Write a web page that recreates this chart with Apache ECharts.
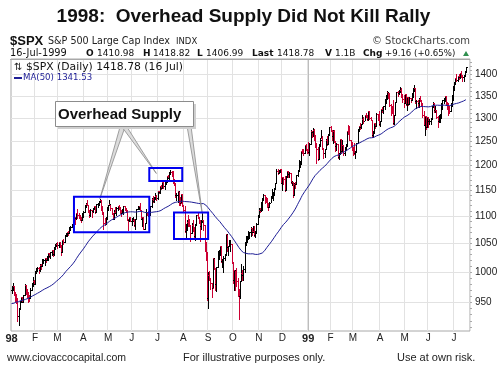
<!DOCTYPE html>
<html><head><meta charset="utf-8">
<script src="https://cdn.jsdelivr.net/npm/echarts@6/dist/echarts.min.js"></script>
<style>html,body{margin:0;padding:0;background:#fff}#c{width:498px;height:372px}</style>
</head><body><div id="c"></div>
<script>
// ---- data (S&P 500 daily, read/estimated from the chart) ----
const prior1997 = [955.61,972.28,968.49,950.69,941.64,876.99,921.85,919.16,903.68,914.62,
938.99,940.76,942.76,938.03,927.51,921.13,923.78,905.96,916.66,928.35,946.20,938.23,944.59,958.98,963.09,946.67,950.82,951.64,955.40,
974.77,971.68,976.77,973.10,983.79,982.37,975.78,969.79,954.94,953.39,963.39,968.04,965.54,955.30,946.78,953.70,939.53,932.70,936.46,953.35,970.43,970.43];

const close = [
975.04,977.07,966.58,964.00,956.05,927.69,939.21,952.12,957.94,950.73,961.51,978.60,970.81,963.04,957.59,956.95,969.02,977.46,985.49,980.28,
1001.27,1006.00,1006.90,1003.54,1012.46,1010.74,1019.01,1020.01,1024.14,1020.09,1022.76,1032.08,1028.28,1034.21,1038.14,1030.56,1042.90,1048.67,1049.34,
1047.70,1052.02,1047.33,1035.05,1055.69,1052.31,1064.25,1068.47,1069.92,1068.61,1079.27,1080.45,1085.52,1089.74,1099.16,1095.55,1105.65,1101.93,1100.80,1095.44,1093.60,1101.75,
1108.15,1120.01,1122.70,1121.38,1109.55,1101.65,1110.67,1109.69,1115.75,1119.32,1108.17,1122.72,1123.65,1126.67,1130.54,1119.58,1107.90,1086.54,1085.11,1094.63,1111.75,
1121.00,1122.07,1115.50,1104.92,1095.14,1108.14,1106.64,1115.79,1118.86,1117.37,1108.73,1105.82,1109.52,1119.06,1114.64,1110.47,1094.02,1092.23,1097.60,1090.82,
1090.98,1093.22,1082.73,1094.83,1113.86,1115.72,1118.41,1112.28,1094.58,1098.84,1077.01,1087.59,1107.11,1106.37,1100.65,1103.21,1119.49,1132.88,1129.13,1133.20,1138.49,1133.84,
1148.56,1146.42,1157.33,1154.66,1166.38,1158.56,1164.33,1165.19,1177.58,1174.81,1183.99,1186.75,1184.10,1165.07,1164.08,1139.75,1140.80,1147.27,1130.24,1125.21,1142.95,1120.67,
1112.44,1072.12,1081.43,1089.63,1089.45,1083.14,1068.98,1084.22,1074.91,1062.75,1083.67,1101.20,1098.06,1091.60,1081.24,1088.14,1092.85,1084.19,1042.59,1027.14,957.28,
994.26,990.47,982.26,973.89,1023.46,1006.20,980.19,1009.06,1029.72,1037.68,1045.48,1018.87,1020.09,1023.89,1029.63,1066.09,1042.72,1044.75,1048.69,1049.02,1017.01,
986.39,1002.60,988.56,984.59,970.68,959.44,984.39,997.71,994.80,1005.53,1047.49,1056.42,1062.39,1063.93,1069.92,1078.48,1070.67,1072.32,1065.34,1068.09,1085.93,1098.67,
1111.60,1110.84,1118.67,1133.85,1141.01,1130.20,1128.26,1120.97,1117.69,1125.72,1135.87,1139.32,1144.48,1152.61,1163.55,1188.21,1182.99,1186.87,1192.33,1163.63,
1175.28,1171.25,1150.14,1176.74,1187.70,1181.38,1183.49,1165.02,1166.46,1141.20,1162.83,1161.94,1179.98,1188.03,1202.84,1203.57,1228.54,1226.27,1225.49,1241.81,1231.93,1229.23,
1228.10,1244.78,1272.34,1269.73,1275.09,1263.88,1239.51,1234.40,1212.19,1243.26,1252.00,1256.62,1235.16,1225.19,1233.98,1252.31,1243.17,1265.37,1279.64,
1273.00,1261.99,1272.07,1248.49,1239.40,1243.77,1216.14,1223.55,1254.04,1230.13,1241.87,1224.03,1237.28,1239.22,1272.14,1271.18,1253.41,1245.02,1238.33,
1236.16,1225.50,1227.70,1246.64,1275.47,1282.73,1279.84,1286.84,1297.68,1294.59,1307.26,1306.38,1297.82,1316.55,1299.29,1297.01,1262.14,1268.59,1289.99,1282.80,1310.17,1300.75,1286.37,
1293.72,1321.12,1317.89,1326.89,1343.98,1348.35,1358.63,1349.82,1328.44,1322.85,1319.00,1289.48,1306.17,1336.12,1358.82,1356.85,1360.04,1362.80,1350.91,1342.83,1335.18,
1354.63,1332.00,1347.31,1332.05,1345.00,1340.30,1355.61,1364.00,1367.56,1337.80,1339.49,1333.32,1344.23,1338.83,1330.29,1306.65,1284.40,1304.76,1281.41,1301.84,
1294.26,1294.81,1299.54,1327.75,1334.52,1317.33,1318.64,1302.82,1293.64,1294.00,1301.16,1330.41,1339.90,1342.84,1349.00,1335.87,1333.06,1315.78,1315.31,1331.35,1351.45,1372.71,
1380.96,1391.22,1388.12,1395.86,1394.42,1403.28,1399.10,1393.56,1398.17,1409.62,1418.78];

const high = [
976,982,977,966,964,956,940,952,959,958,962,979,978,971,966,962,973,981,992,987,
1002,1007,1009,1008,1013,1013,1023,1023,1025,1025,1028,1032,1033,1035,1039,1038,1043,1049,1051,
1053,1053,1052,1047,1056,1058,1065,1069,1071,1073,1080,1081,1086,1090,1100,1099,1106,1113,1105,1103,1099,1105,
1110,1121,1124,1131,1121,1111,1113,1111,1116,1120,1119,1123,1125,1129,1132,1130,1120,1108,1097,1099,1117,
1122,1131,1122,1116,1105,1111,1118,1117,1119,1122,1118,1112,1114,1120,1120,1116,1111,1094,1099,1099,
1097,1098,1095,1095,1114,1119,1120,1124,1112,1099,1098,1088,1113,1108,1110,1105,1120,1134,1139,1136,1145,1140,
1149,1149,1158,1160,1168,1167,1166,1170,1178,1179,1185,1190,1188,1188,1172,1164,1145,1148,1147,1136,1143,1143,
1121,1119,1085,1092,1102,1095,1083,1087,1092,1079,1085,1102,1107,1098,1092,1092,1106,1092,1084,1052,1034,
1000,1002,990,982,1023,1023,1006,1009,1037,1038,1046,1045,1022,1028,1032,1066,1066,1046,1056,1057,1049,
1017,1003,1001,1007,989,970,985,1014,1004,1011,1053,1063,1064,1073,1071,1080,1078,1081,1082,1072,1087,1103,
1115,1115,1127,1134,1142,1141,1136,1135,1124,1126,1139,1153,1146,1155,1164,1192,1192,1189,1193,1192,
1175,1175,1177,1177,1188,1187,1186,1184,1168,1166,1163,1166,1180,1189,1211,1208,1229,1233,1233,1242,1245,1234,
1248,1247,1273,1272,1278,1276,1264,1247,1237,1244,1257,1274,1260,1236,1234,1254,1262,1266,1280,
1283,1274,1273,1274,1250,1246,1244,1226,1254,1254,1253,1242,1238,1245,1272,1285,1283,1253,1249,
1238,1246,1230,1247,1276,1283,1290,1288,1306,1303,1307,1312,1306,1317,1317,1303,1297,1272,1290,1290,1311,1310,1316,
1294,1321,1325,1327,1344,1352,1362,1358,1357,1332,1327,1341,1307,1336,1359,1362,1364,1372,1368,1354,1352,
1355,1354,1348,1347,1348,1346,1357,1368,1375,1368,1341,1341,1345,1350,1341,1333,1316,1305,1304,1302,
1302,1298,1300,1328,1337,1335,1327,1319,1304,1306,1310,1334,1340,1345,1350,1349,1335,1333,1327,1333,1352,1374,
1383,1392,1402,1397,1401,1404,1409,1399,1398,1410,1418.82];

const low = [
965,969,962,952,949,920,913,939,950,950,950,961,963,958,950,951,956,969,976,979,
980,998,1001,999,1002,1006,1010,1015,1012,1017,1020,1021,1026,1024,1030,1027,1030,1040,1045,
1042,1043,1043,1030,1035,1049,1052,1063,1064,1066,1068,1074,1079,1084,1089,1086,1095,1097,1097,1092,1089,1093,
1098,1108,1117,1121,1107,1099,1101,1098,1108,1113,1105,1108,1117,1121,1126,1112,1104,1076,1083,1085,1094,
1111,1121,1112,1104,1094,1095,1106,1102,1111,1114,1105,1101,1105,1104,1111,1107,1093,1074,1091,1090,
1084,1091,1082,1077,1094,1113,1114,1111,1094,1081,1077,1077,1087,1102,1100,1099,1103,1117,1127,1126,1133,1130,
1133,1145,1145,1152,1154,1155,1153,1162,1165,1174,1171,1182,1178,1164,1159,1136,1130,1127,1121,1121,1126,1119,
1107,1071,1058,1074,1082,1082,1055,1069,1072,1059,1056,1084,1096,1087,1054,1076,1089,1075,1037,1020,953,
940,987,972,959,974,1005,969,968,1009,1023,1030,1017,1008,1000,1021,1030,1036,1030,1045,1036,1015,
981,969,970,977,960,923,957,985,987,987,1000,1048,1053,1058,1060,1064,1066,1070,1063,1061,1068,1086,
1099,1107,1110,1112,1131,1125,1126,1117,1111,1118,1126,1134,1131,1141,1153,1164,1181,1183,1185,1163,
1150,1161,1149,1150,1176,1176,1176,1164,1159,1137,1141,1154,1162,1178,1188,1197,1203,1225,1220,1226,1231,1226,
1225,1220,1245,1258,1262,1253,1238,1205,1211,1212,1240,1256,1234,1215,1217,1234,1241,1243,1264,
1271,1253,1247,1248,1229,1231,1215,1212,1223,1226,1230,1220,1220,1232,1239,1266,1252,1239,1232,
1221,1222,1215,1228,1247,1271,1276,1278,1287,1290,1295,1303,1296,1296,1298,1295,1258,1258,1268,1278,1283,1296,1284,
1283,1293,1313,1312,1321,1335,1344,1345,1327,1308,1312,1288,1288,1306,1336,1351,1355,1360,1348,1337,1326,
1335,1330,1318,1329,1332,1336,1340,1348,1362,1333,1323,1324,1326,1338,1327,1303,1284,1263,1277,1281,
1281,1287,1288,1299,1326,1314,1313,1300,1281,1292,1292,1301,1321,1334,1339,1330,1321,1308,1312,1315,1328,1340,
1365,1378,1386,1386,1390,1392,1395,1386,1386,1398,1406.99];

const holidays = ['1998-01-01','1998-01-19','1998-02-16','1998-04-10','1998-05-25','1998-07-03','1998-09-07',
  '1998-11-26','1998-12-25','1999-01-01','1999-01-18','1999-02-15','1999-04-02','1999-05-31','1999-07-05'];
const monthLetters = ['J','F','M','A','M','J','J','A','S','O','N','D'];
const priceTicks = [950,1000,1050,1100,1150,1200,1250,1300,1350,1400];
const minorTicks = []; for (let p = 910; p <= 1430; p += 10) minorTicks.push(p);
const yRange = [904.3, 1438];
const maPeriod = 50;

// annotation anchors (data space)
const boxes = [
  {from:'1998-03-20', to:'1998-06-22', top:1137, bottom:1070},
  {from:'1998-06-22', to:'1998-07-31', top:1194, bottom:1168},
  {from:'1998-07-22', to:'1998-09-01', top:1107, bottom:1058}
];
const pointers = [
  {base:[[120,127],[125,127]], date:'1998-04-22', price:1133},
  {base:[[122,127],[127,127]], date:'1998-06-30', price:1183},
  {base:[[187,126],[191,126]], date:'1998-08-25', price:1105}
];

// ---- trading-day categories ----
const dates = [];
{
  let d = new Date(Date.UTC(1998,0,2));
  while (dates.length < close.length) {
    const wd = d.getUTCDay();
    const s = d.toISOString().slice(0,10);
    if (wd !== 0 && wd !== 6 && holidays.indexOf(s) < 0) dates.push(s);
    d = new Date(d.getTime() + 86400000);
  }
}
const pad = 3;
const cats = dates.concat(new Array(pad).fill(''));
const isMonthStart = (i) => {
  if (i >= dates.length) return false;
  if (i === 0) return true;
  return dates[i].slice(5,7) !== dates[i-1].slice(5,7);
};

const L = Math.log;
const all = prior1997.concat(close);
const ohlc = close.map((c,i) => {
  const prev = all[i + prior1997.length - 1];
  return [i, L(prev), L(high[i]), L(low[i]), L(c), c >= prev ? 1 : 0];
});
const ma = close.map((c,i) => {
  const end = i + prior1997.length;
  let s = 0; for (let k = end - maPeriod + 1; k <= end; k++) s += all[k];
  return L(s / maPeriod);
});

const chart = echarts.init(document.getElementById('c'), null, {renderer:'canvas', width:498, height:372});
const AR = '"Liberation Sans", Arial, sans-serif';
const DV = '"DejaVu Sans", Verdana, sans-serif';

chart.setOption({
  animation:false,
  backgroundColor:'#fff',
  grid:{left:11, right:28, top:59, bottom:41, show:true, borderColor:'#a8a8a8', borderWidth:1, containLabel:false, outerBoundsMode:'none'},
  xAxis:{
    type:'category', data:cats, boundaryGap:true,
    axisLine:{show:false}, axisTick:{show:false},
    axisLabel:{interval:(i)=>isMonthStart(i), margin:2, color:'#222', fontFamily:AR, fontSize:10,
      formatter:(v)=>{ if(!v) return ''; const m=+v.slice(5,7)-1; return m===0?'{b|'+v.slice(2,4)+'}':monthLetters[m]; },
      rich:{b:{fontWeight:'bold', fontSize:11, fontFamily:AR, color:'#222'}}},
    splitLine:{show:true, interval:(i)=>isMonthStart(i) && i>0, lineStyle:{color:'#e2e2e2', width:1}}
  },
  yAxis:[{
    type:'value', position:'right', min:L(yRange[0]), max:L(yRange[1]), scale:true,
    axisLine:{show:false},
    axisTick:{show:false, customValues:priceTicks.map(L)},
    axisLabel:{customValues:priceTicks.map(L), margin:5, color:'#222', fontFamily:AR, fontSize:10,
      formatter:(v)=>String(Math.round(Math.exp(v)))},
    splitLine:{show:true, lineStyle:{color:'#e2e2e2', width:1}}
  },{
    type:'value', position:'right', min:L(yRange[0]), max:L(yRange[1]), scale:true,
    axisLine:{show:false},
    axisTick:{show:true, inside:false, length:2, customValues:minorTicks.map(L), lineStyle:{color:'#aaa'}},
    axisLabel:{show:false}, splitLine:{show:false}
  }],
  series:[{
    type:'custom', data:ohlc, encode:{x:0, y:[1,2,3,4]}, z:3,
    renderItem:(params, api)=>{
      const i = api.value(0);
      const pO = api.coord([i, api.value(1)]);
      const pH = api.coord([i, api.value(2)]);
      const pL = api.coord([i, api.value(3)]);
      const pC = api.coord([i, api.value(4)]);
      const x = Math.round(pH[0]) + 0.5;
      const col = api.value(5) ? '#000000' : '#cc0033';
      const yO = Math.round(pO[1]) + 0.5, yC = Math.round(pC[1]) + 0.5;
      return {type:'group', children:[
        {type:'line', shape:{x1:x, y1:Math.round(pH[1]), x2:x, y2:Math.round(pL[1])+1}, style:{stroke:col, lineWidth:1}},
        {type:'line', shape:{x1:x-1.5, y1:yO, x2:x-0.5, y2:yO}, style:{stroke:col, lineWidth:1}},
        {type:'line', shape:{x1:x+0.5, y1:yC, x2:x+1.5, y2:yC}, style:{stroke:col, lineWidth:1}}
      ]};
    }
  },{
    type:'line', data:ma, showSymbol:false, symbol:'none', z:4,
    lineStyle:{color:'#1e1e96', width:1}
  }]
});

// ---- annotations positioned through the chart's own coordinate system ----
const toPx = (date, price) => chart.convertToPixel({xAxisIndex:0, yAxisIndex:0}, [dates.indexOf(date), L(price)]);
const g = [];
// year divider
{
  const i = dates.indexOf('1999-01-04');
  const a = chart.convertToPixel({xAxisIndex:0, yAxisIndex:0}, [i-1, L(1000)]);
  const b = chart.convertToPixel({xAxisIndex:0, yAxisIndex:0}, [i, L(1000)]);
  const xx = Math.round((a[0]+b[0])/2) + 0.5;
  g.push({type:'line', z:1, shape:{x1:xx, y1:60, x2:xx, y2:331}, style:{stroke:'#bdbdbd', lineWidth:1}});
}
// titles
g.push({type:'text', x:243.5, y:16.5, style:{text:'1998:  Overhead Supply Did Not Kill Rally', font:'bold 19px '+AR, fill:'#111', align:'center', verticalAlign:'middle'}});
g.push({type:'text', x:10, y:41, style:{text:'$SPX', font:'bold 13px '+AR, fill:'#111', verticalAlign:'middle'}});
g.push({type:'text', x:48, y:41, style:{text:'S&P 500 Large Cap Index', font:'9.6px '+DV, fill:'#222', verticalAlign:'middle'}});
g.push({type:'text', x:176, y:41.5, style:{text:'INDX', font:'8.5px '+DV, fill:'#222', verticalAlign:'middle'}});
g.push({type:'text', x:470, y:41, style:{text:'© StockCharts.com', font:'10px '+DV, fill:'#444', align:'right', verticalAlign:'middle'}});
const line2 = [
  [10,'16-Jul-1999',false,9.8],[86,'O',true,9],[97,'1410.98',false,9],[143,'H',true,9],[153,'1418.82',false,9],
  [197,'L',true,9],[206,'1406.99',false,9],[252,'Last',true,9],[277,'1418.78',false,9],[325,'V',true,9],[335,'1.1B',false,9],
  [363,'Chg',true,9],[385,'+9.16 (+0.65%)',false,8.6]
];
line2.forEach(([x,t,b,fs]) => g.push({type:'text', x:x, y:53.5, style:{text:t, font:(b?'bold ':'')+fs+'px '+DV, fill:'#111', verticalAlign:'middle'}}));
g.push({type:'polygon', shape:{points:[[463,56],[469,56],[466,51]]}, style:{fill:'#2f8f4f'}});
g.push({type:'line', shape:{x1:10, y1:59.5, x2:470, y2:59.5}, style:{stroke:'#a8a8a8', lineWidth:1}});
// legend
g.push({type:'text', x:14, y:67.5, style:{text:'⇅', font:'10px '+DV, fill:'#222', verticalAlign:'middle'}});
g.push({type:'text', x:26, y:67.5, style:{text:'$SPX (Daily) 1418.78 (16 Jul)', font:'10.8px '+DV, fill:'#111', verticalAlign:'middle'}});
g.push({type:'line', shape:{x1:14, y1:78, x2:22, y2:78}, style:{stroke:'#1e1e96', lineWidth:2}});
g.push({type:'text', x:23, y:78, style:{text:'MA(50) 1341.53', font:'8.6px '+DV, fill:'#1e1e96', verticalAlign:'middle'}});
// pointers
pointers.forEach(p => {
  const t = toPx(p.date, p.price);
  g.push({type:'polygon', z:20, shape:{points:[p.base[0], p.base[1], t]}, style:{fill:'#dcdcdc', stroke:'#8a8a8a', lineWidth:0.8}});
});
// callout
g.push({type:'rect', z:21, shape:{x:58, y:104, width:138, height:25}, style:{fill:'#cfcfcf'}});
g.push({type:'rect', z:22, shape:{x:55.5, y:101.5, width:138, height:25}, style:{fill:'#fff', stroke:'#8c8c8c', lineWidth:1}});
g.push({type:'text', z:23, x:58, y:114.5, style:{text:'Overhead Supply', font:'bold 15px '+AR, fill:'#111', verticalAlign:'middle'}});
// boxes
boxes.forEach(b => {
  const a = toPx(b.from, b.top), c = toPx(b.to, b.bottom);
  g.push({type:'rect', z:25, shape:{x:a[0], y:a[1], width:c[0]-a[0], height:c[1]-a[1]}, style:{fill:'none', stroke:'#0000f0', lineWidth:2}});
});
// footer
g.push({type:'text', x:7, y:358, style:{text:'www.ciovaccocapital.com', font:'10.5px '+AR, fill:'#222', verticalAlign:'middle'}});
g.push({type:'text', x:183, y:358, style:{text:'For illustrative purposes only.', font:'11px '+AR, fill:'#222', verticalAlign:'middle'}});
g.push({type:'text', x:397, y:358, style:{text:'Use at own risk.', font:'11px '+AR, fill:'#222', verticalAlign:'middle'}});
if (close.length !== high.length || close.length !== low.length || dates[dates.length-1] !== '1999-07-16') {
  g.push({type:'text', x:100, y:300, style:{text:'LEN '+close.length+' '+high.length+' '+low.length+' '+dates[dates.length-1], font:'12px '+AR, fill:'red'}});
}
chart.setOption({graphic:g});
</script>
</body></html>
